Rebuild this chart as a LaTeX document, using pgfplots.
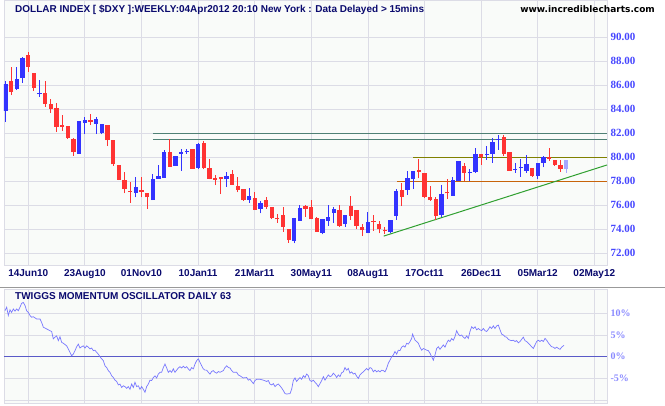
\documentclass[border=0pt]{standalone}
\usepackage{pgfplots}
\pgfplotsset{compat=1.18}
\usepackage{pgfplotstable}
\usepackage{fontspec}
\setmainfont{Liberation Sans}
\newfontfamily\serifb{Liberation Serif}
\newfontfamily\dejab{DejaVu Sans}

\definecolor{upc}{HTML}{3333FF}
\definecolor{dnc}{HTML}{FF3333}
\definecolor{lastc}{HTML}{A6A6FF}
\definecolor{navyt}{HTML}{0A0A6E}
\definecolor{gridc}{HTML}{DCDCE6}
\definecolor{bgc}{HTML}{F9FBF9}
\definecolor{tealc}{HTML}{4F8075}
\definecolor{olivec}{HTML}{808000}
\definecolor{orangec}{HTML}{C8640A}
\definecolor{trendc}{HTML}{30A030}
\definecolor{ylab}{HTML}{4646FF}
\definecolor{ylabb}{HTML}{8A8AFF}
\definecolor{oscc}{HTML}{7878FF}
\definecolor{zeroc}{HTML}{5A5AC8}

% weekly candles: index, open, high, low, close
\pgfplotstableread{
i O H L C
0 83.86 86.33 82.94 86.08
2 85.69 87.5 85.6 86.5
3 86.61 88.33 86.19 88.25
6 85.25 86.42 85.03 85.32
13 80.28 83.0 80.28 83.0
14 82.86 83.36 81.94 83.08
16 82.78 83.36 81.97 83.17
17 82.0 82.75 81.92 82.75
23 77.06 78.39 76.67 77.5
26 76.44 78.58 76.44 78.17
27 78.22 79.36 78.2 78.44
28 78.31 80.61 78.31 80.44
30 79.31 80.11 79.31 80.11
31 80.3 80.67 78.89 80.45
32 80.45 80.67 80.28 80.52
34 79.14 81.17 79.0 81.11
39 78.17 78.81 77.56 78.44
43 76.44 77.42 76.22 76.78
45 75.72 76.36 75.33 76.22
51 73.06 74.92 72.83 74.92
52 74.72 76.03 74.72 75.75
56 73.72 74.86 73.58 74.86
57 74.72 76.03 74.31 75.0
58 75.39 75.89 74.56 75.69
60 74.44 75.19 74.22 75.19
64 73.72 75.47 73.67 74.61
68 73.81 74.78 73.67 74.78
69 75.11 77.33 74.78 77.19
71 77.28 78.89 76.86 78.25
72 78.17 78.89 77.39 78.89
77 75.19 77.72 75.06 76.94
79 76.78 78.4 76.78 78.11
80 78.03 79.72 78.0 79.67
82 78.67 79.06 78.03 78.75
83 78.81 80.78 78.72 80.28
85 80.19 80.94 79.78 80.28
86 80.28 81.58 79.56 81.28
87 81.43 81.86 80.61 81.5
90 79.0 79.56 78.72 79.06
91 79.14 79.83 78.39 79.2
92 78.89 80.22 78.72 79.44
94 78.44 79.56 78.17 79.5
95 79.56 80.1 79.17 80.03
}\upbars

\pgfplotstableread{
i O H L C
1 86.33 87.5 85.17 85.44
4 88.5 88.78 87.11 87.53
5 87.0 87.06 85.53 85.78
7 85.33 86.33 84.19 84.44
8 84.42 84.83 83.69 84.03
9 84.08 84.56 82.11 82.53
10 82.67 83.5 82.19 82.53
11 82.58 82.6 81.53 81.61
12 81.5 81.61 80.11 80.44
15 83.08 83.58 82.67 82.92
18 82.67 82.67 80.94 81.44
19 81.42 81.47 79.28 79.42
20 79.36 79.36 78.1 78.11
21 78.11 78.75 77.0 77.36
22 77.2 77.97 76.22 77.1
24 77.28 78.33 76.67 77.14
25 77.06 77.06 75.72 76.67
29 80.44 81.5 79.22 79.22
33 80.67 80.67 79.03 79.03
35 81.17 81.33 79.0 79.14
36 79.08 79.83 78.17 78.22
37 78.25 78.53 77.69 78.15
38 78.33 78.33 76.94 78.17
40 78.61 78.94 77.7 77.72
41 77.61 78.33 77.08 77.28
42 77.36 77.36 76.39 76.44
44 76.64 77.08 75.64 75.64
46 76.44 76.67 75.72 75.89
47 75.89 75.89 74.83 74.92
48 74.95 75.28 74.56 74.83
49 75.19 75.89 73.81 74.22
50 74.0 74.0 72.89 73.11
53 75.94 76.03 75.06 75.72
54 75.86 76.44 74.83 74.83
55 74.94 75.0 73.81 73.81
59 75.61 76.03 74.22 74.31
61 75.94 76.78 74.78 75.11
62 75.61 75.61 74.0 74.28
63 74.17 74.44 73.44 73.94
65 74.72 75.19 73.89 74.61
66 74.44 74.72 73.67 74.0
67 73.94 74.17 73.61 73.83
70 77.28 77.89 75.94 76.72
73 78.94 79.83 78.25 78.81
74 78.72 78.72 76.58 76.72
75 76.72 77.64 76.39 76.44
76 76.5 76.67 74.78 75.11
78 77.1 78.17 76.53 77.0
81 79.28 79.5 78.03 78.72
84 80.28 80.3 79.36 80.06
88 81.72 81.86 80.11 80.28
89 80.44 80.44 78.89 78.89
93 79.08 79.08 78.39 78.44
96 80.0 80.78 79.72 79.85
97 79.78 79.78 79.3 79.36
98 79.36 79.78 78.81 79.03
}\downbars

\pgfplotstableread{
i O H L C
99 79.0 79.78 78.72 79.78
}\lastbar

% daily momentum oscillator (x in weekly index units, y in percent)
\pgfplotstableread{
x y
-0.12 10.6
0.18 11.4
0.47 9.5
0.77 10.8
1.06 10.2
1.36 11.0
1.65 10.5
1.94 11.0
2.24 10.6
2.53 11.4
2.83 12.3
3.12 12.5
3.42 11.8
3.71 10.6
4.01 10.2
4.30 9.5
4.59 9.1
4.89 9.2
5.48 8.7
6.07 8.7
6.36 7.9
6.66 6.8
7.24 6.4
7.83 6.0
8.13 5.8
8.42 4.1
8.72 4.5
9.01 4.8
9.31 3.7
9.60 4.6
9.90 3.3
10.19 3.1
10.78 2.5
11.07 1.8
11.37 1.0
11.66 0.2
11.96 0.6
12.25 1.4
12.55 2.3
12.84 2.9
13.13 2.0
13.43 2.3
13.72 2.5
14.02 2.0
14.31 2.5
14.61 2.2
14.90 1.8
15.20 2.0
15.49 1.4
15.78 1.5
16.08 1.0
16.37 0.6
16.67 0.0
16.96 -0.5
17.26 -0.9
17.55 -2.1
17.85 -2.5
18.14 -3.2
18.43 -3.6
18.73 -4.4
19.02 -4.8
19.32 -5.4
19.61 -5.7
19.91 -6.5
20.20 -6.3
20.50 -7.1
20.79 -6.7
21.08 -6.9
21.38 -7.3
21.67 -6.9
21.97 -7.5
22.26 -6.3
22.56 -7.1
22.85 -5.9
23.15 -6.9
23.44 -6.7
23.73 -7.5
24.03 -6.9
24.32 -7.5
24.62 -8.2
24.91 -6.9
25.21 -6.3
25.50 -5.4
25.80 -5.5
26.09 -4.8
26.38 -4.4
26.68 -4.9
26.97 -4.0
27.27 -3.6
27.56 -3.6
27.86 -2.5
28.15 -1.7
28.45 -2.6
28.74 -3.6
29.03 -3.2
29.33 -3.6
29.62 -2.8
29.92 -3.6
30.21 -3.1
30.51 -2.6
30.80 -2.3
31.10 -2.6
31.39 -2.2
31.69 -2.6
31.98 -2.3
32.27 -2.8
32.57 -3.2
32.86 -2.5
33.16 -2.8
33.45 -1.7
33.75 -0.9
34.04 -0.5
34.34 -1.3
34.63 -2.1
34.92 -2.8
35.22 -3.1
35.51 -3.1
35.81 -3.6
36.10 -4.0
36.40 -3.4
36.69 -3.2
36.99 -3.6
37.28 -3.8
37.57 -3.4
37.87 -3.6
38.46 -3.2
38.75 -2.5
39.05 -2.1
39.34 -2.5
39.64 -2.6
39.93 -3.2
40.22 -3.6
40.81 -3.6
41.11 -4.2
41.40 -4.4
41.99 -4.9
42.58 -4.8
42.87 -5.4
43.17 -5.2
43.46 -5.7
43.76 -6.2
44.05 -5.5
44.35 -5.2
44.94 -5.2
45.52 -5.4
46.11 -5.7
46.41 -5.5
46.70 -6.3
47.00 -6.5
47.29 -6.2
47.59 -6.9
47.88 -6.5
48.17 -6.3
48.47 -6.7
48.76 -7.2
49.06 -7.8
49.35 -8.5
49.65 -8.6
50.24 -8.5
50.53 -7.5
50.82 -5.5
51.12 -4.9
51.41 -5.7
51.71 -5.2
52.00 -4.8
52.30 -5.2
52.59 -4.4
52.89 -4.8
53.18 -4.0
53.48 -4.4
53.77 -5.5
54.06 -5.7
54.36 -5.4
54.65 -5.9
54.95 -6.3
55.24 -6.9
55.54 -6.2
55.83 -5.5
56.13 -4.6
56.42 -5.4
56.71 -4.8
57.01 -4.2
57.30 -4.6
57.60 -4.4
57.89 -3.8
58.19 -4.2
58.48 -4.8
58.78 -4.2
59.07 -4.6
59.36 -3.7
59.66 -3.5
59.95 -2.5
60.24 -3.1
60.54 -2.7
60.83 -3.8
61.13 -3.5
61.42 -4.0
61.72 -3.8
62.01 -4.5
62.31 -5.0
62.60 -4.2
62.89 -3.8
63.19 -3.5
63.48 -3.1
63.78 -2.7
64.07 -3.1
64.37 -2.5
64.66 -2.7
64.96 -3.5
65.25 -3.1
65.55 -3.5
65.84 -3.2
66.13 -3.5
66.43 -3.1
66.72 -3.2
67.02 -3.5
67.31 -2.7
67.61 -1.5
67.90 -0.8
68.20 0.0
68.49 0.4
68.78 1.2
69.08 0.6
69.37 1.5
69.67 1.4
69.96 2.2
70.26 2.5
70.55 2.2
70.85 3.1
71.14 2.9
71.44 3.5
71.73 4.2
71.90 5.2
72.02 4.8
72.32 3.8
72.61 3.5
72.91 3.1
73.20 2.2
73.50 1.5
73.79 1.9
74.08 1.7
74.38 1.5
74.67 1.4
74.97 0.8
75.26 0.0
75.56 -0.8
75.85 0.4
76.15 1.9
76.44 2.3
76.73 1.7
77.03 2.2
77.32 2.7
77.62 2.2
77.91 3.1
78.21 3.8
78.50 3.5
78.80 4.2
79.09 3.8
79.38 4.6
79.68 6.0
79.97 5.2
80.27 4.8
80.56 5.0
80.86 4.5
81.15 4.2
81.45 4.8
81.74 4.2
82.03 5.8
82.33 6.9
82.62 6.5
82.92 6.9
83.21 6.2
83.51 6.5
83.80 6.2
84.10 6.0
84.39 6.5
84.69 6.0
84.98 5.8
85.27 6.3
85.57 6.9
85.86 6.5
86.16 7.1
86.45 6.5
86.75 7.1
87.04 7.3
87.34 6.2
87.63 5.2
87.92 5.0
88.22 4.6
88.51 4.5
88.81 4.0
89.10 3.8
89.40 3.7
89.69 3.8
89.99 3.5
90.28 3.7
90.57 3.2
90.87 3.5
91.16 4.0
91.46 4.5
91.75 3.7
92.05 3.5
92.34 3.1
92.64 2.7
92.93 2.3
93.22 1.9
93.52 2.7
93.81 3.5
94.11 3.8
94.40 3.5
94.70 3.8
94.99 3.5
95.29 4.2
95.58 3.8
95.87 3.2
96.17 2.7
96.46 2.3
96.76 2.2
97.05 1.9
97.35 2.2
97.64 1.9
97.94 1.7
98.23 2.2
98.52 2.5
98.64 2.6
}\osc

\pgfplotsset{
  panel/.style={
    scale only axis, anchor=south west, width=603pt,
    xmin=-0.29, xmax=106.24,
    axis background/.style={fill=bgc},
    axis line style={draw=gridc, line width=0.8pt},
    xtick={4,14,...,104},
    grid=major, major grid style={draw=gridc, line width=0.8pt},
    major tick length=0pt, tick style={draw=none},
    yticklabel pos=right,
    clip=true,
  },
  wick/.style={draw=none, mark=none, forget plot,
    error bars/.cd, y dir=plus, y explicit, error mark=none,
    error bar style={draw=#1, solid, line width=1pt}},
  body/.style={draw=none, mark=none, forget plot,
    error bars/.cd, y dir=plus, y explicit, error mark=none,
    error bar style={draw=#1, solid, line width=4.3pt}},
}

\begin{document}
\begin{tikzpicture}
\path[use as bounding box, fill=white] (0,0) rectangle (665pt,405pt);

\begin{axis}[panel,
  at={(4pt,140pt)}, height=265pt,
  ymin=71.03, ymax=93.1,
  ytick={72,74,...,90},
  xticklabels={14Jun10,23Aug10,01Nov10,10Jan11,21Mar11,30May11,08Aug11,17Oct11,26Dec11,05Mar12,02May12},
  xticklabel style={font=\bfseries\fontsize{10}{12}\selectfont, text=navyt, yshift=-1pt},
  yticklabel style={font=\serifb\bfseries\fontsize{11}{12}\selectfont, text=ylab, xshift=0pt,
    /pgf/number format/fixed, /pgf/number format/fixed zerofill,
    /pgf/number format/precision=2, /pgf/number format/assume math mode=true},
]
% horizontal support / resistance lines and trend line
\addplot[tealc, line width=1pt] coordinates {(26,82.0) (106.3,82.0)};
\addplot[tealc, line width=1pt] coordinates {(26,81.5) (106.3,81.5)};
\addplot[olivec, line width=1pt] coordinates {(72,80.0) (106.3,80.0)};
\addplot[orangec, line width=1pt] coordinates {(69.1,78.0) (106.3,78.0)};
\addplot[trendc, line width=1pt] coordinates {(66.8,73.44) (106.24,79.36)};

% candles
\addplot[wick=upc] table[x=i, y=L, y error expr=\thisrow{H}-\thisrow{L}] {\upbars};
\addplot[body=upc] table[x=i, y=O, y error expr=\thisrow{C}-\thisrow{O}] {\upbars};
\addplot[wick=dnc] table[x=i, y=L, y error expr=\thisrow{H}-\thisrow{L}] {\downbars};
\addplot[body=dnc] table[x=i, y=C, y error expr=\thisrow{O}-\thisrow{C}] {\downbars};
\addplot[wick=lastc] table[x=i, y=L, y error expr=\thisrow{H}-\thisrow{L}] {\lastbar};
\addplot[body=lastc] table[x=i, y=O, y error expr=\thisrow{C}-\thisrow{O}] {\lastbar};
\end{axis}

\begin{axis}[panel,
  at={(4pt,2pt)}, height=114pt,
  ymin=-10.67, ymax=15.6,
  xticklabels={},
  ytick={-10,-5,0,5,10},
  yticklabels={,-5\%,0\%,5\%,10\%},
  yticklabel style={font=\serifb\bfseries\fontsize{10}{12}\selectfont, text=ylabb},
]
\addplot[zeroc, line width=1pt] coordinates {(-0.29,0) (106.24,0)};
\addplot[oscc, line width=0.7pt] table[x=x, y=y] {\osc};
\end{axis}

% separator between panels
\draw[draw=black!40, line width=1pt] (0,117.5pt) -- (665pt,117.5pt);

% titles
\node[anchor=base west, inner sep=0pt, text=navyt, font=\bfseries\fontsize{10}{12}\selectfont]
  at (15pt,392.5pt) {DOLLAR INDEX [ \$DXY ]:WEEKLY:04Apr2012 20:10 New York : Data Delayed > 15mins};
\node[anchor=base east, inner sep=0pt, text=black, font=\dejab\bfseries\fontsize{9}{11}\selectfont]
  at (655pt,392.5pt) {www.incrediblecharts.com};
\node[anchor=base west, inner sep=0pt, text=navyt, font=\bfseries\fontsize{10}{12}\selectfont]
  at (15pt,105pt) {TWIGGS MOMENTUM OSCILLATOR DAILY 63};
\end{tikzpicture}
\end{document}
